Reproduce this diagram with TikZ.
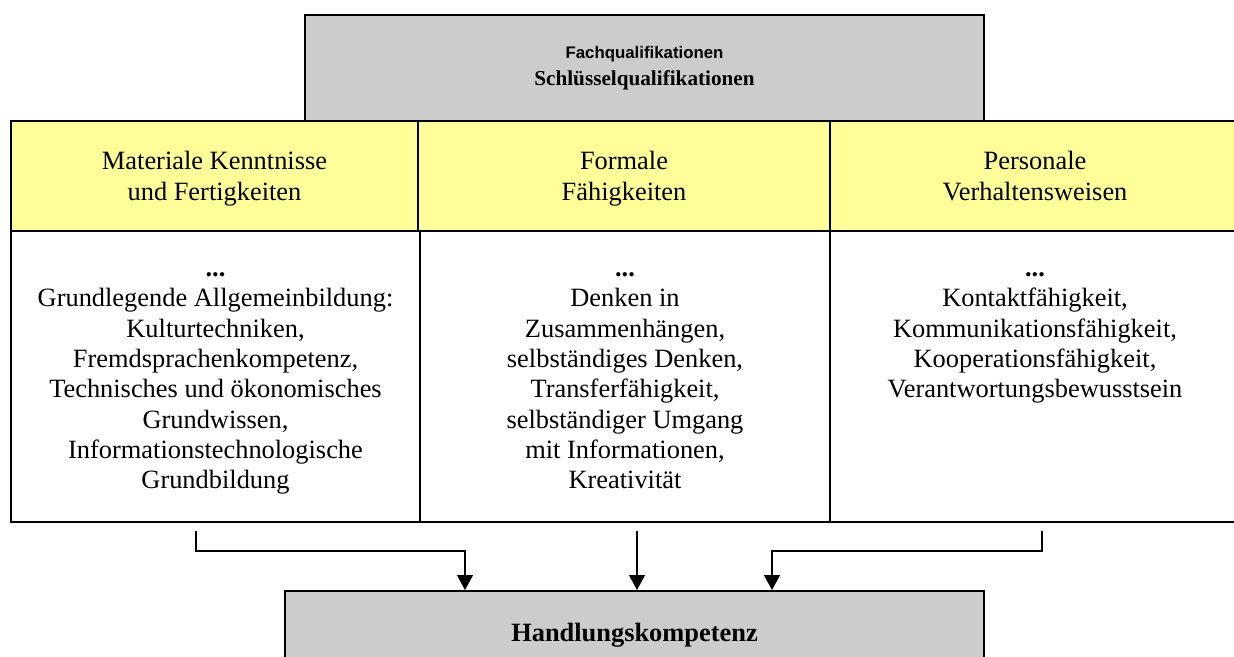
\documentclass[tikz,border=0pt]{standalone}
\usepackage{fontspec}
\setmainfont{Liberation Serif}
\setsansfont{Liberation Sans}
\usetikzlibrary{positioning,arrows.meta}
\definecolor{boxgray}{HTML}{CCCCCC}
\definecolor{headyellow}{HTML}{FFFF99}
\newcommand{\cellfont}{\fontsize{13.2}{15.15}\selectfont}
\newcommand{\headstrut}{\rule{0pt}{13.6pt}}

\begin{document}
\begin{tikzpicture}[x=0.5pt,y=-0.5pt,
    cell/.style={draw, line width=1pt, inner sep=0pt, align=center, font=\cellfont},
    headcell/.style={cell, fill=headyellow, minimum height=55pt},
    bodycell/.style={cell, minimum height=145.5pt},
    bodytext/.style={inner sep=0pt, align=center, font=\cellfont},
    greybox/.style={draw, line width=1pt, fill=boxgray, inner sep=0pt, align=center},
    arr/.style={line width=0.7pt, -{Triangle[width=8pt,length=7.5pt]}}]
        \useasboundingbox (0,0) rectangle (1234,657);
        \clip (0,0) rectangle (1234,657);

        \node[greybox, minimum width=339.5pt, minimum height=53pt,
              font=\fontsize{10.6}{13.5}\selectfont] (quali) at (644.5,68)
            {{\sffamily\bfseries\fontsize{8.4}{10}\selectfont Fachqualifikationen}\\
             \textbf{Schlüsselqualifikationen}};
        %
        % Kopfzeile
        \node[headcell, minimum width=203.5pt] (mat) at (214.5,176) {\headstrut Materiale Kenntnisse\\und Fertigkeiten\strut};
        \node[headcell, minimum width=206pt] (form) at (624,176) {\headstrut Formale\\Fähigkeiten\strut};
        \node[headcell, minimum width=205pt] (pers) at (1035,176) {\headstrut Personale\\Verhaltensweisen\strut};
        %
        % Inhalte
        \node[bodycell, minimum width=204.5pt] (matb) at (215.5,376.5) {};
        \node[bodycell, minimum width=205pt] (formb) at (625,376.5) {};
        \node[bodycell, minimum width=205pt] (persb) at (1035,376.5) {};

        \node[bodytext, below=12.5pt of matb.north] (mattext)
            {\strut\textbf{...}\\Grundlegende Allgemeinbildung:\\Kulturtechniken,\\Fremdsprachenkompetenz,\\Technisches und ökonomisches\\Grundwissen,\\Informationstechnologische\\Grundbildung};
        \node[bodytext, below=12.5pt of formb.north] (formtext)
            {\strut\textbf{...}\\Denken in\\Zusammenhängen,\\selbständiges Denken,\\Transferfähigkeit,\\selbständiger Umgang\\mit Informationen,\\Kreativität};
        \node[bodytext, below=12.5pt of persb.north] (perstext)
            {\strut\textbf{...}\\Kontaktfähigkeit,\\Kommunikationsfähigkeit,\\Kooperationsfähigkeit,\\Verantwortungsbewusstsein};
        %
        % Pfeile
        \node[greybox, minimum width=349.5pt, minimum height=44pt,
              font=\bfseries\fontsize{13.2}{15}\selectfont] (hk) at (634.5,635) {Handlungskompetenz};
        \coordinate (s1) at (196,531);
        \coordinate (s2) at (637,531);
        \coordinate (s3) at (1042,531);
        \coordinate (k1) at (465,551);
        \coordinate (k3) at (772,551);
        \draw[arr] (s1) |- (k1) -- (k1 |- hk.north);
        \draw[arr] (s2) -- (s2 |- hk.north);
        \draw[arr] (s3) |- (k3) -- (k3 |- hk.north);
    \end{tikzpicture}
\end{document}
